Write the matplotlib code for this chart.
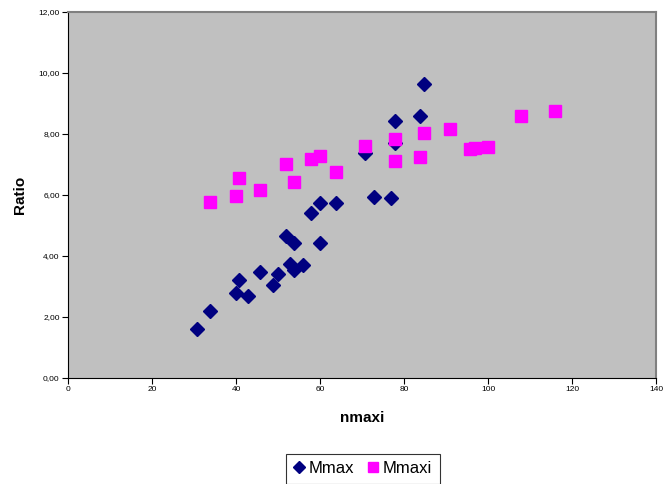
import matplotlib
matplotlib.use("Agg")
import matplotlib.pyplot as plt
from matplotlib.ticker import FuncFormatter, MultipleLocator

plt.rcParams['font.family'] = ['Liberation Sans', 'DejaVu Sans']

mmax_x = [30.8, 33.8, 39.9, 40.8, 42.9, 45.8, 48.8, 49.9, 51.8, 53.7, 52.8, 53.7,
          55.9, 57.9, 59.9, 59.9, 63.8, 84.8, 77.9, 83.8, 77.9, 70.8, 72.8, 76.9]
mmax_y = [1.62, 2.19, 2.80, 3.20, 2.69, 3.48, 3.04, 3.40, 4.64, 4.43, 3.75, 3.53,
          3.70, 5.41, 5.74, 4.44, 5.75, 9.63, 8.44, 8.58, 7.69, 7.37, 5.92, 5.90]

mmaxi_x = [33.8, 39.9, 40.8, 45.8, 51.8, 53.7, 57.9, 59.9, 63.8, 70.8, 77.9, 77.9,
           84.8, 83.8, 90.9, 95.8, 96.8, 99.9, 107.9, 115.9]
mmaxi_y = [5.77, 5.96, 6.56, 6.16, 7.01, 6.42, 7.17, 7.29, 6.74, 7.60, 7.82, 7.12,
           8.03, 7.25, 8.18, 7.51, 7.54, 7.57, 8.59, 8.77]

fig = plt.figure(figsize=(6.64, 4.84), dpi=100)
ax = fig.add_axes([68/664, 1-378/484, (656-68)/664, (378-12)/484])
ax.set_facecolor('#C0C0C0')

ax.plot(mmax_x, mmax_y, linestyle='none', marker='D', markersize=7.5,
        color='#000080', label='Mmax', zorder=3)
ax.plot(mmaxi_x, mmaxi_y, linestyle='none', marker='s', markersize=9,
        color='#FF00FF', label='Mmaxi', zorder=3)

ax.set_xlim(0, 140)
ax.set_ylim(0, 12)
ax.xaxis.set_major_locator(MultipleLocator(20))
ax.yaxis.set_major_locator(MultipleLocator(2))
ax.yaxis.set_major_formatter(FuncFormatter(lambda v, p: f"{v:.2f}".replace('.', ',')))
ax.tick_params(axis='both', labelsize=6, length=4, width=0.8, direction='out', pad=2)

for s in ['top', 'right']:
    ax.spines[s].set_color('#808080')
    ax.spines[s].set_linewidth(1.5)
for s in ['left', 'bottom']:
    ax.spines[s].set_color('black')
    ax.spines[s].set_linewidth(0.8)

ax.set_xlabel('nmaxi', fontsize=11, fontweight='bold', labelpad=13)
ax.set_ylabel('Ratio', fontsize=11, fontweight='bold', labelpad=8)

leg = fig.legend(loc='center', bbox_to_anchor=(363/664, 1-468.5/484), ncol=2,
                 fontsize=12, frameon=True, fancybox=False, edgecolor='black',
                 handlelength=0.6, handletextpad=0.3, columnspacing=0.8,
                 borderpad=0.45, markerscale=0.8)
leg.get_frame().set_linewidth(0.8)

fig.savefig('out.png', dpi=100)
